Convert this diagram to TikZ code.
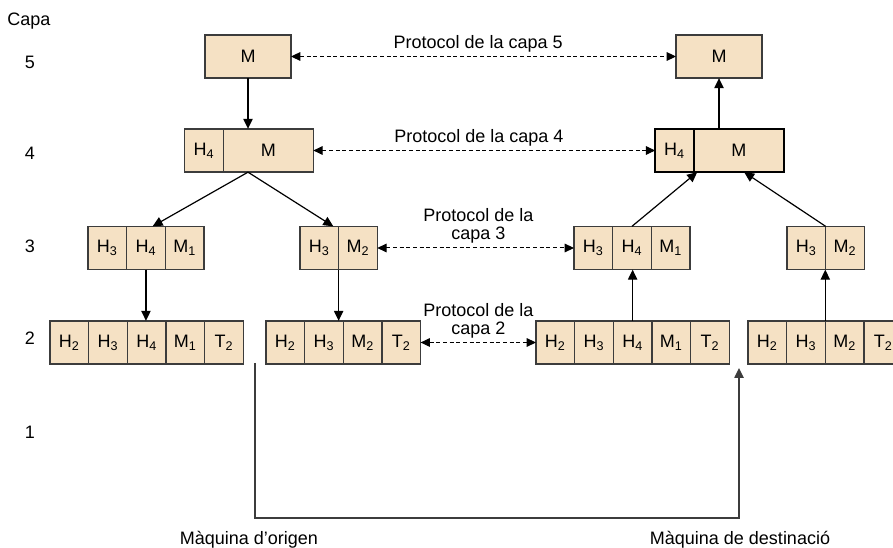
\documentclass[tikz,border=0pt]{standalone}
\usepackage{fontspec}
\setmainfont{Liberation Sans}
\usepackage{xcolor}
\usetikzlibrary{positioning}
\usetikzlibrary{arrows.meta}

\definecolor{capafill}{RGB}{245,225,196}
\definecolor{capaline}{RGB}{60,60,60}

\begin{document}
\begin{tikzpicture}[x=0.75pt,y=-0.75pt,
  cell/.style={draw=capaline, fill=capafill, line width=1.1pt, minimum width=29pt, minimum height=32.5pt, inner sep=0pt, outer sep=0pt, font=\fontsize{13.5}{15}\selectfont},
  flow/.style={black, line width=0.9pt, -{Triangle[length=7.5pt,width=7pt]}},
  peer/.style={black, line width=0.75pt, dash pattern=on 3pt off 2pt, {Triangle[length=7pt,width=6.5pt]}-{Triangle[length=7pt,width=6.5pt]}},
  lbl/.style={font=\fontsize{13.5}{13.5}\selectfont, align=center, inner sep=3pt},
  txt/.style={font=\fontsize{13.5}{15}\selectfont}]

\useasboundingbox (0,0) rectangle (893,548);

% layer numbers
\node[txt] (capa) at (29,21) {Capa};
\node[txt] (n5) at (30,62) {5};
\node[txt] (n4) at (30,153) {4};
\node[txt] (n3) at (30,246) {3};
\node[txt] (n2) at (30,338) {2};
\node[txt] (n1) at (30,432) {1};

% layer 5
\node[cell, minimum width=64.5pt] (m5l) at (248,56.5) {M};
\node[cell, minimum width=64.5pt] (m5r) at (719,56.5) {M};

% layer 4
\node[cell] (h4l) at (204,150.5) {H\textsubscript{4}};
\node[cell, minimum width=67.5pt, right=0pt of h4l] (m4l) {M};

\node[cell, draw=black, line width=1.7pt] (h4r) at (674.5,150.5) {H\textsubscript{4}};
\node[cell, draw=black, line width=1.7pt, minimum width=67.5pt, right=0pt of h4r] (m4r) {M};

% layer 3
\node[cell] (c3a1) at (107.3,248) {H\textsubscript{3}};
\node[cell, right=0pt of c3a1] (c3a2) {H\textsubscript{4}};
\node[cell, right=0pt of c3a2] (c3a3) {M\textsubscript{1}};

\node[cell] (c3b1) at (319.3,248) {H\textsubscript{3}};
\node[cell, right=0pt of c3b1] (c3b2) {M\textsubscript{2}};

\node[cell] (c3c1) at (593.3,248) {H\textsubscript{3}};
\node[cell, right=0pt of c3c1] (c3c2) {H\textsubscript{4}};
\node[cell, right=0pt of c3c2] (c3c3) {M\textsubscript{1}};

\node[cell] (c3d1) at (806.3,248) {H\textsubscript{3}};
\node[cell, right=0pt of c3d1] (c3d2) {M\textsubscript{2}};

% layer 2
\node[cell] (c2a1) at (69.3,342.5) {H\textsubscript{2}};
\node[cell, right=0pt of c2a1] (c2a2) {H\textsubscript{3}};
\node[cell, right=0pt of c2a2] (c2a3) {H\textsubscript{4}};
\node[cell, right=0pt of c2a3] (c2a4) {M\textsubscript{1}};
\node[cell, right=0pt of c2a4] (c2a5) {T\textsubscript{2}};

\node[cell] (c2b1) at (285.3,342.5) {H\textsubscript{2}};
\node[cell, right=0pt of c2b1] (c2b2) {H\textsubscript{3}};
\node[cell, right=0pt of c2b2] (c2b3) {M\textsubscript{2}};
\node[cell, right=0pt of c2b3] (c2b4) {T\textsubscript{2}};

\node[cell] (c2c1) at (555.3,342.5) {H\textsubscript{2}};
\node[cell, right=0pt of c2c1] (c2c2) {H\textsubscript{3}};
\node[cell, right=0pt of c2c2] (c2c3) {H\textsubscript{4}};
\node[cell, right=0pt of c2c3] (c2c4) {M\textsubscript{1}};
\node[cell, right=0pt of c2c4] (c2c5) {T\textsubscript{2}};

\node[cell] (c2d1) at (767.3,342.5) {H\textsubscript{2}};
\node[cell, right=0pt of c2d1] (c2d2) {H\textsubscript{3}};
\node[cell, right=0pt of c2d2] (c2d3) {M\textsubscript{2}};
\node[cell, right=0pt of c2d3] (c2d4) {T\textsubscript{2}};

% going down on the origin side
\draw[flow] (m5l.south) -- (m5l.south |- m4l.north);
\draw[flow] (m5l.south |- m4l.south) -- ([xshift=5pt]c3a2.north);
\draw[flow] (m5l.south |- m4l.south) -- ([xshift=-4pt]c3b1.north east);
\draw[flow] (c3a2.south) -- (c3a2.south |- c2a3.north);
\draw[flow] (c3b1.south east) -- (c3b1.south east |- c2b2.north);

% going up on the destination side
\draw[flow] (c2c3.north) -- (c2c3.north |- c3c2.south);
\draw[flow] (c2d2.north east) -- (c2d2.north east |- c3d1.south);
\draw[flow] (c3c2.north) -- ([xshift=2.5pt]h4r.south east);
\draw[flow] (c3d1.north east) -- ([xshift=4pt]m4r.south);
\draw[flow] (m5r.south |- m4r.north) -- (m5r.south);

% peer protocols
\draw[peer] (m5l.east) -- node[lbl, above, xshift=-4pt] {Protocol de la capa 5} (m5r.west);
\draw[peer] (m4l.east) -- node[lbl, above, xshift=-4pt] {Protocol de la capa 4} (h4r.west);
\draw[peer] (c3b2.east) -- node[lbl, above, xshift=2pt] {Protocol de la\\capa 3} (c3c1.west);
\draw[peer] (c2b4.east) -- node[lbl, above] {Protocol de la\\capa 2} (c2c1.west);

% physical medium
\coordinate (out) at (255,363);
\coordinate (in) at (739,368);
\draw[flow, draw=capaline, line width=1.1pt] (out) -- (255,518) -- (739,518) -- (in);

\node[txt] (origen) at (249,540) {Màquina d'origen};
\node[txt] (desti) at (740,540) {Màquina de destinació};

\end{tikzpicture}
\end{document}
